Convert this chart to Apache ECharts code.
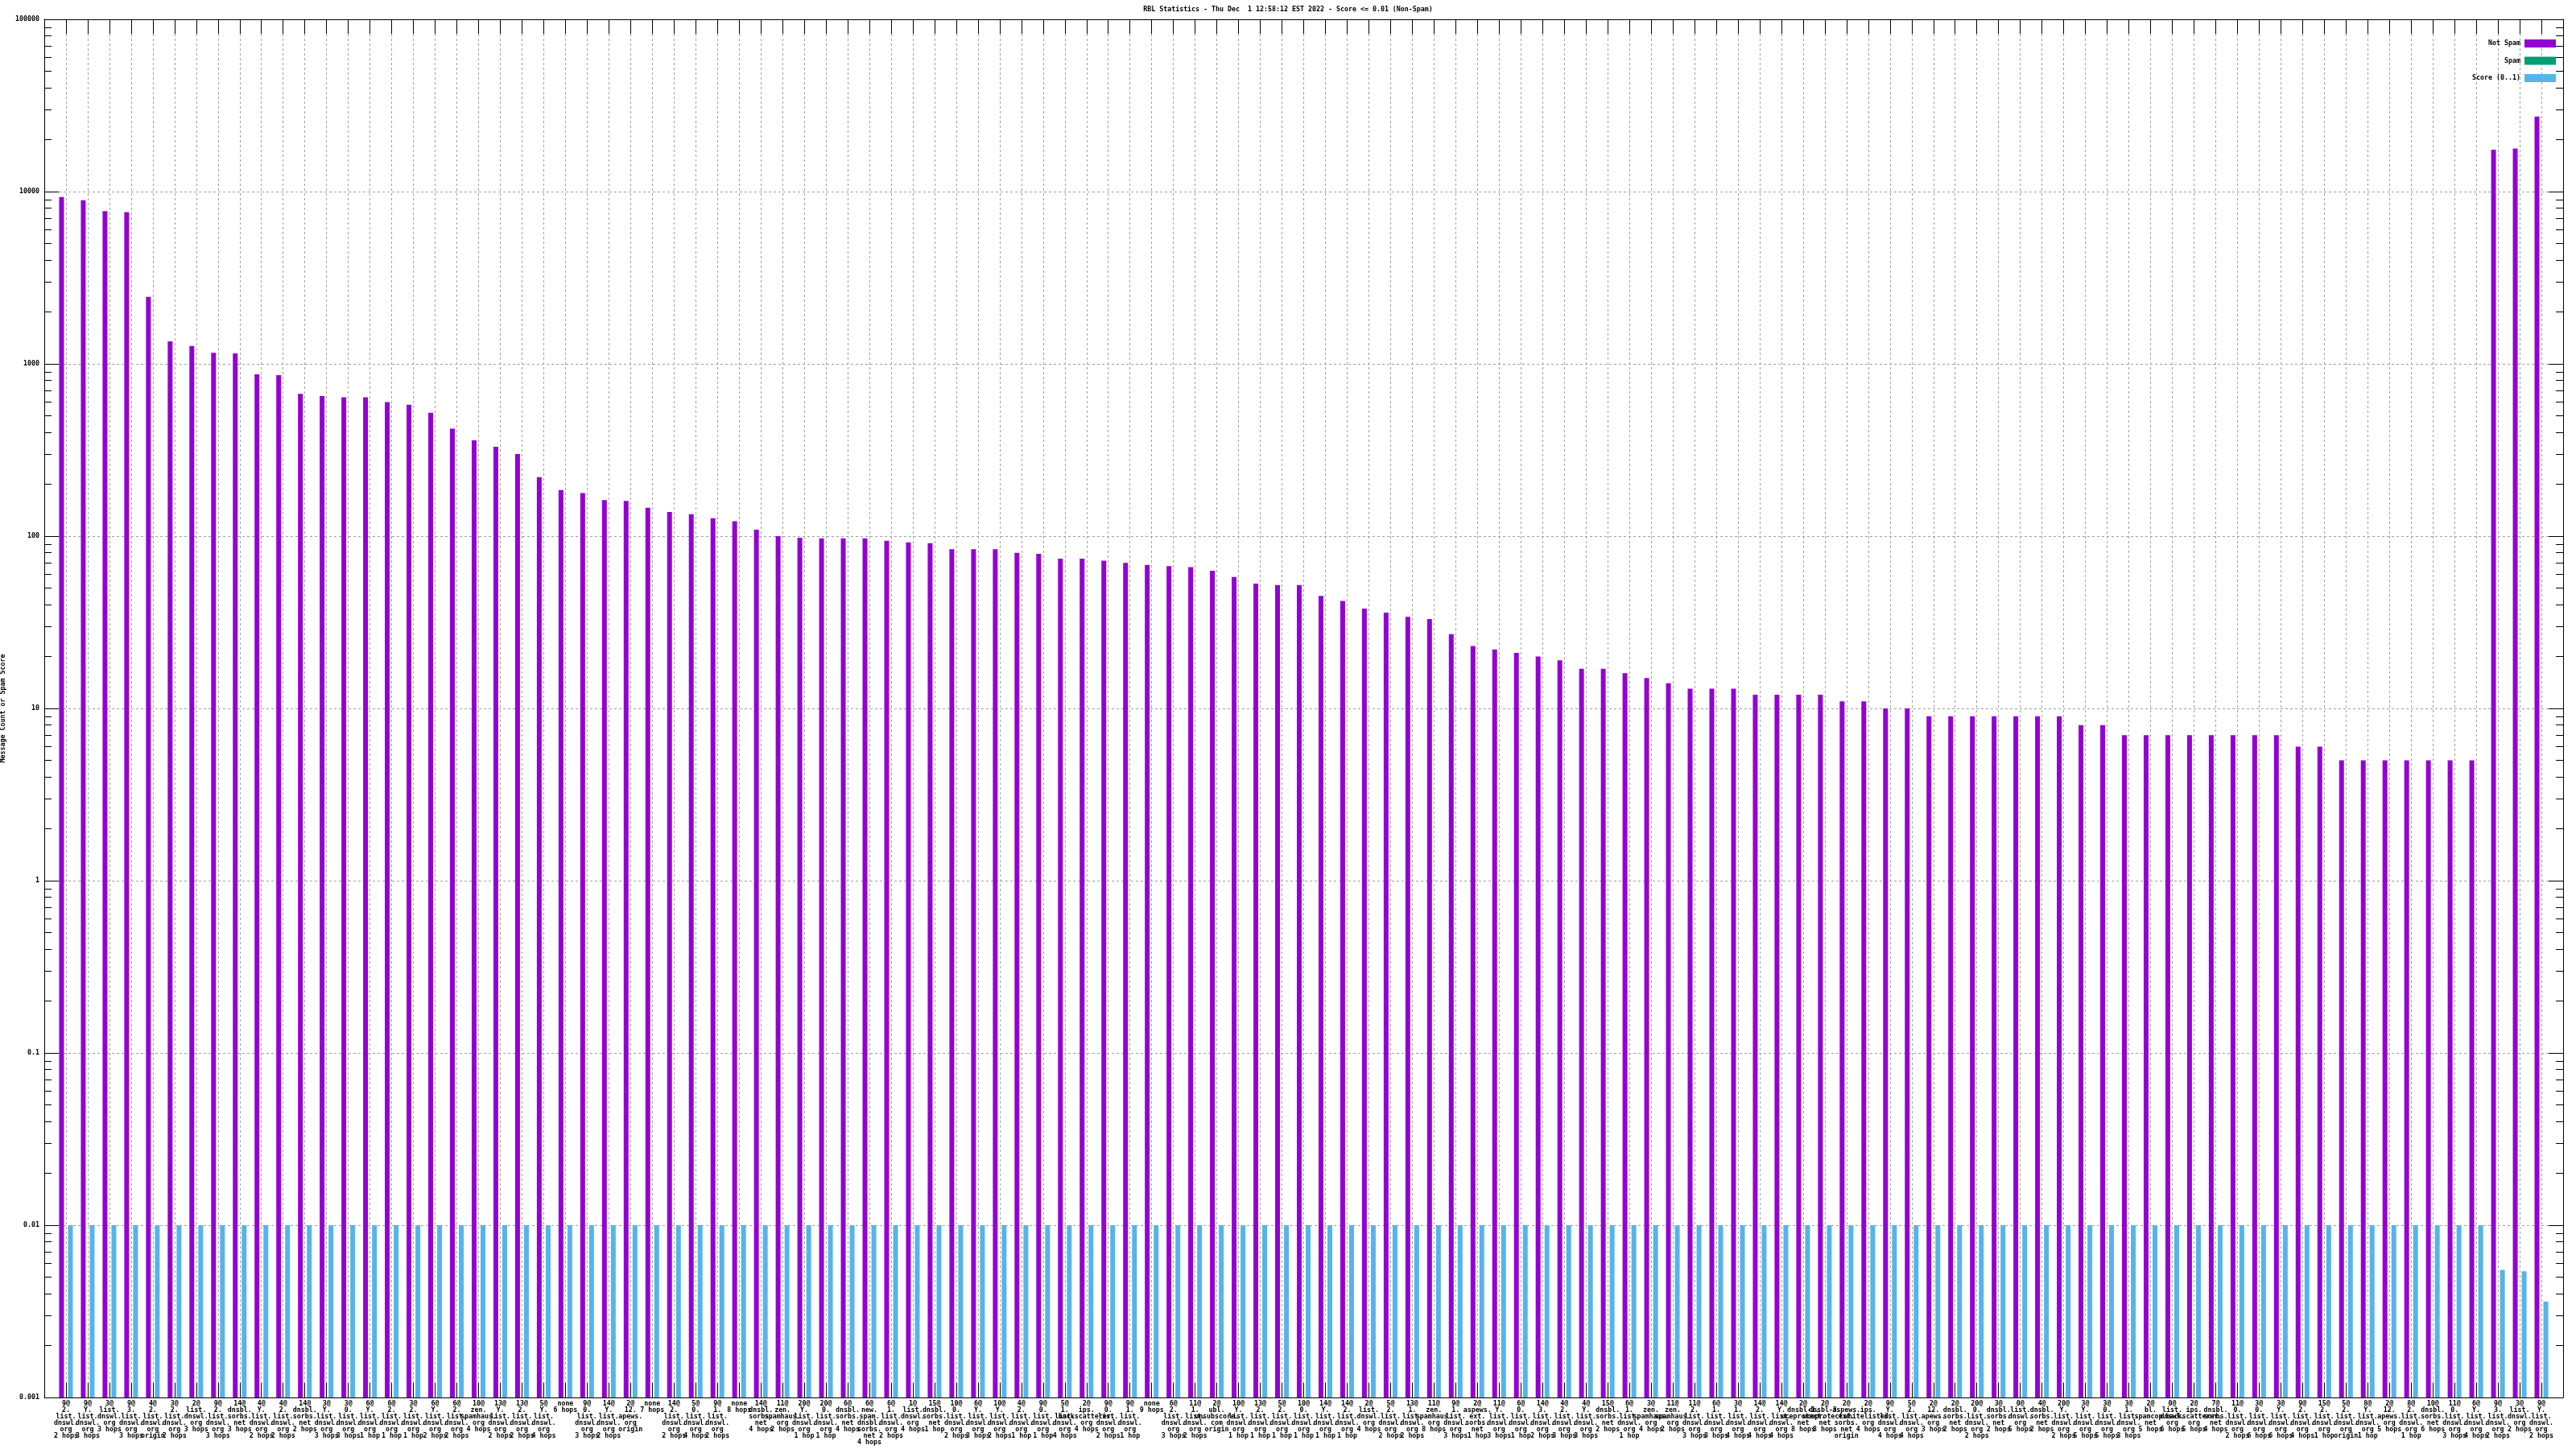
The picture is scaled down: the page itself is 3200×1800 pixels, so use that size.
<!DOCTYPE html>
<html><head><meta charset="utf-8">
<script src="https://cdn.jsdelivr.net/npm/echarts@6/dist/echarts.min.js"></script>
<style>html,body{margin:0;padding:0;background:#fff}#c{width:3200px;height:1800px}</style>
</head><body><div id="c"></div>
<script>
const titleText = 'RBL Statistics - Thu Dec  1 12:58:12 EST 2022 - Score <= 0.01 (Non-Spam)';
const yTitle = 'Message Count or Spam Score';
const seriesNames = ['Not Spam', 'Spam', 'Score (0..1)'];
const categories = [
 '9@\n2.\nlist.\ndnswl.\norg\n2 hops','9@\nY.\nlist.\ndnswl.\norg\n3 hops','3@\nlist.\ndnswl.\norg\n3 hops','9@\n3.\nlist.\ndnswl.\norg\n3 hops','4@\n2.\nlist.\ndnswl.\norg\norigin',
 '3@\n2.\nlist.\ndnswl.\norg\n2 hops','2@\nlist.\ndnswl.\norg\n3 hops','9@\n2.\nlist.\ndnswl.\norg\n3 hops','14@\ndnsbl.\nsorbs.\nnet\n3 hops','4@\nY.\nlist.\ndnswl.\norg\n2 hops',
 '4@\n2.\nlist.\ndnswl.\norg\n2 hops','14@\ndnsbl.\nsorbs.\nnet\n2 hops','3@\nY.\nlist.\ndnswl.\norg\n3 hops','3@\n0.\nlist.\ndnswl.\norg\n3 hops','6@\nY.\nlist.\ndnswl.\norg\n1 hop',
 '6@\n2.\nlist.\ndnswl.\norg\n1 hop','3@\n2.\nlist.\ndnswl.\norg\n1 hop','6@\nY.\nlist.\ndnswl.\norg\n2 hops','6@\n2.\nlist.\ndnswl.\norg\n2 hops','10@\nzen.\nspamhaus.\norg\n4 hops',
 '13@\nY.\nlist.\ndnswl.\norg\n2 hops','13@\n2.\nlist.\ndnswl.\norg\n2 hops','5@\nY.\nlist.\ndnswl.\norg\n4 hops','none\n6 hops','9@\n0.\nlist.\ndnswl.\norg\n3 hops',
 '14@\nY.\nlist.\ndnswl.\norg\n2 hops','2@\n12.\napews.\norg\norigin','none\n7 hops','14@\n2.\nlist.\ndnswl.\norg\n2 hops','5@\n0.\nlist.\ndnswl.\norg\n4 hops',
 '9@\n1.\nlist.\ndnswl.\norg\n2 hops','none\n8 hops','14@\ndnsbl.\nsorbs.\nnet\n4 hops','11@\nzen.\nspamhaus.\norg\n2 hops','20@\nY.\nlist.\ndnswl.\norg\n1 hop',
 '20@\n0.\nlist.\ndnswl.\norg\n1 hop','6@\ndnsbl.\nsorbs.\nnet\n4 hops','6@\nnew.\nspam.\ndnsbl.\nsorbs.\nnet\n4 hops','6@\n1.\nlist.\ndnswl.\norg\n2 hops','1@\nlist.\ndnswl.\norg\n4 hops',
 '15@\ndnsbl.\nsorbs.\nnet\n1 hop','10@\n0.\nlist.\ndnswl.\norg\n2 hops','6@\nY.\nlist.\ndnswl.\norg\n3 hops','10@\nY.\nlist.\ndnswl.\norg\n2 hops','4@\n2.\nlist.\ndnswl.\norg\n1 hop',
 '9@\n0.\nlist.\ndnswl.\norg\n1 hop','5@\n1.\nlist.\ndnswl.\norg\n4 hops','2@\nips.\nbackscatterer.\norg\n4 hops','9@\n0.\nlist.\ndnswl.\norg\n2 hops','9@\n1.\nlist.\ndnswl.\norg\n1 hop',
 'none\n9 hops','6@\n2.\nlist.\ndnswl.\norg\n3 hops','11@\n1.\nlist.\ndnswl.\norg\n2 hops','2@\nubl.\nunsubscore.\ncom\norigin','10@\nY.\nlist.\ndnswl.\norg\n1 hop',
 '13@\n2.\nlist.\ndnswl.\norg\n1 hop','5@\n2.\nlist.\ndnswl.\norg\n1 hop','10@\n0.\nlist.\ndnswl.\norg\n1 hop','14@\nY.\nlist.\ndnswl.\norg\n1 hop','14@\n2.\nlist.\ndnswl.\norg\n1 hop',
 '2@\nlist.\ndnswl.\norg\n4 hops','5@\n2.\nlist.\ndnswl.\norg\n2 hops','13@\n1.\nlist.\ndnswl.\norg\n2 hops','11@\nzen.\nspamhaus.\norg\n8 hops','9@\n1.\nlist.\ndnswl.\norg\n3 hops',
 '2@\naspews.\next.\nsorbs.\nnet\n1 hop','11@\nY.\nlist.\ndnswl.\norg\n3 hops','6@\n0.\nlist.\ndnswl.\norg\n1 hop','14@\n3.\nlist.\ndnswl.\norg\n2 hops','4@\n2.\nlist.\ndnswl.\norg\n3 hops',
 '4@\nY.\nlist.\ndnswl.\norg\n3 hops','15@\ndnsbl.\nsorbs.\nnet\n2 hops','6@\n1.\nlist.\ndnswl.\norg\n1 hop','3@\nzen.\nspamhaus.\norg\n4 hops','11@\nzen.\nspamhaus.\norg\n2 hops',
 '11@\n2.\nlist.\ndnswl.\norg\n3 hops','6@\n1.\nlist.\ndnswl.\norg\n3 hops','3@\n1.\nlist.\ndnswl.\norg\n4 hops','14@\n2.\nlist.\ndnswl.\norg\n4 hops','14@\nY.\nlist.\ndnswl.\norg\n4 hops',
 '2@\ndnsbl-1.\nuceprotect.\nnet\n8 hops','2@\ndnsbl-3.\nuceprotect.\nnet\n8 hops','2@\naspews.\next.\nsorbs.\nnet\norigin','2@\nips.\nwhitelisted.\norg\n4 hops','9@\nY.\nlist.\ndnswl.\norg\n4 hops',
 '5@\n2.\nlist.\ndnswl.\norg\n4 hops','2@\n12.\napews.\norg\n3 hops','2@\ndnsbl.\nsorbs.\nnet\n2 hops','20@\n0.\nlist.\ndnswl.\norg\n2 hops','3@\ndnsbl.\nsorbs.\nnet\n2 hops',
 '0@\nlist.\ndnswl.\norg\n5 hops','4@\ndnsbl.\nsorbs.\nnet\n2 hops','20@\nY.\nlist.\ndnswl.\norg\n2 hops','3@\nY.\nlist.\ndnswl.\norg\n5 hops','3@\n0.\nlist.\ndnswl.\norg\n5 hops',
 '3@\n1.\nlist.\ndnswl.\norg\n3 hops','2@\nbl.\nspamcop.\nnet\n5 hops','0@\nlist.\ndnswl.\norg\n6 hops','2@\nips.\nbackscatterer.\norg\n5 hops','7@\ndnsbl.\nsorbs.\nnet\n4 hops',
 '11@\n0.\nlist.\ndnswl.\norg\n2 hops','3@\n0.\nlist.\ndnswl.\norg\n6 hops','3@\nY.\nlist.\ndnswl.\norg\n6 hops','9@\n2.\nlist.\ndnswl.\norg\n4 hops','15@\n2.\nlist.\ndnswl.\norg\n1 hop',
 '5@\n2.\nlist.\ndnswl.\norg\norigin','8@\nY.\nlist.\ndnswl.\norg\n1 hop','2@\n12.\napews.\norg\n5 hops','8@\n2.\nlist.\ndnswl.\norg\n1 hop','10@\ndnsbl.\nsorbs.\nnet\n6 hops',
 '11@\n0.\nlist.\ndnswl.\norg\n3 hops','6@\nY.\nlist.\ndnswl.\norg\n4 hops','9@\n3.\nlist.\ndnswl.\norg\n2 hops','3@\nlist.\ndnswl.\norg\n2 hops','9@\nY.\nlist.\ndnswl.\norg\n2 hops'
];
const notSpam = [
 9300, 8900, 7700, 7600, 2450, 1350, 1270, 1160, 1150, 870,
 860, 670, 650, 640, 640, 600, 580, 520, 420, 360,
 330, 300, 220, 185, 178, 162, 160, 146, 138, 134,
 127, 122, 109, 100, 98, 97, 97, 97, 94, 92,
 91, 84, 84, 84, 80, 79, 74, 74, 72, 70,
 68, 67, 66, 63, 58, 53, 52, 52, 45, 42,
 38, 36, 34, 33, 27, 23, 22, 21, 20, 19,
 17, 17, 16, 15, 14, 13, 13, 13, 12, 12,
 12, 12, 11, 11, 10, 10, 9, 9, 9, 9,
 9, 9, 9, 8, 8, 7, 7, 7, 7, 7,
 7, 7, 7, 6, 6, 5, 5, 5, 5, 5,
 5, 5, 17500, 17800, 27300
];
const spam = [
 0,0,0,0,0,0,0,0,0,0, 0,0,0,0,0,0,0,0,0,0, 0,0,0,0,0,0,0,0,0,0, 0,0,0,0,0,0,0,0,0,0,
 0,0,0,0,0,0,0,0,0,0, 0,0,0,0,0,0,0,0,0,0, 0,0,0,0,0,0,0,0,0,0, 0,0,0,0,0,0,0,0,0,0,
 0,0,0,0,0,0,0,0,0,0, 0,0,0,0,0,0,0,0,0,0, 0,0,0,0,0,0,0,0,0,0, 0,0,0,0,0
];
const score = [
 0.01,0.01,0.01,0.01,0.01,0.01,0.01,0.01,0.01,0.01, 0.01,0.01,0.01,0.01,0.01,0.01,0.01,0.01,0.01,0.01,
 0.01,0.01,0.01,0.01,0.01,0.01,0.01,0.01,0.01,0.01, 0.01,0.01,0.01,0.01,0.01,0.01,0.01,0.01,0.01,0.01,
 0.01,0.01,0.01,0.01,0.01,0.01,0.01,0.01,0.01,0.01, 0.01,0.01,0.01,0.01,0.01,0.01,0.01,0.01,0.01,0.01,
 0.01,0.01,0.01,0.01,0.01,0.01,0.01,0.01,0.01,0.01, 0.01,0.01,0.01,0.01,0.01,0.01,0.01,0.01,0.01,0.01,
 0.01,0.01,0.01,0.01,0.01,0.01,0.01,0.01,0.01,0.01, 0.01,0.01,0.01,0.01,0.01,0.01,0.01,0.01,0.01,0.01,
 0.01,0.01,0.01,0.01,0.01,0.01,0.01,0.01,0.01,0.01, 0.01,0.01,0.0055,0.0054,0.0036
];
const yMajorTicks = [0.001, 0.01, 0.1, 1, 10, 100, 1000, 10000, 100000];
const yTickLabels = ['0.001', '0.01', '0.1', '1', '10', '100', '1000', '10000', '100000'];
const colors = ['#9400d3', '#009e73', '#56b4e9'];

const FONT = 'DejaVu Sans Mono';
const FS = 8.3;
const FW = 'bold';
const chart = echarts.init(document.getElementById('c'), null, {renderer: 'canvas'});

// padding categories at both ends so the first/last ticks sit one step in from the frame
const xData = [''].concat(categories, ['']);
const pad = arr => [null].concat(arr.map(v => (v > 0 ? v : null)), [null]);

const logCommon = {type: 'log', logBase: 10, min: 0.001, max: 100000, startValue: 0.001, splitNumber: 8};
const fmtY = v => {
  let best = null, bd = Infinity;
  yMajorTicks.forEach((t, i) => { const d = Math.abs(Math.log10(v) - Math.log10(t)); if (d < bd) { bd = d; best = i; } });
  return bd < 0.01 ? yTickLabels[best] : '';
};

const option = {
  animation: false,
  backgroundColor: '#fff',
  title: {text: titleText, left: 'center', top: 8, padding: 0,
    textStyle: {fontFamily: FONT, fontSize: FS, fontWeight: FW, color: '#000'}},
  legend: seriesNames.map((n, i) => ({
    data: [n], orient: 'vertical', right: 25, top: 49 + i * 21.5, padding: 0,
    align: 'right', itemWidth: 39, itemHeight: 10, itemGap: 0, icon: 'rect',
    textStyle: {fontFamily: FONT, fontSize: FS, fontWeight: FW, color: '#000'}
  })),
  grid: {left: 55, right: 16, top: 24, bottom: 64, containLabel: false, outerBoundsMode: 'none'},
  xAxis: [
    {type: 'category', data: xData, boundaryGap: false, position: 'bottom',
     axisLine: {show: true, onZero: false, lineStyle: {color: '#000', width: 1}},
     axisTick: {show: true, inside: true, length: 18, interval: 0, lineStyle: {color: '#000', width: 1}},
     axisLabel: {show: true, interval: 0, margin: 4, fontFamily: FONT, fontSize: FS, fontWeight: FW, lineHeight: 8, color: '#000', align: 'center', verticalAlign: 'top', hideOverlap: false},
     splitLine: {show: true, interval: 0, lineStyle: {color: '#a0a0a0', width: 1, type: [3, 3]}}},
    {type: 'category', data: xData, boundaryGap: false, position: 'top',
     axisLine: {show: true, onZero: false, lineStyle: {color: '#000', width: 1}},
     axisTick: {show: true, inside: true, length: 18, interval: 0, lineStyle: {color: '#000', width: 1}},
     axisLabel: {show: false}, splitLine: {show: false}}
  ],
  yAxis: [
    Object.assign({}, logCommon, {position: 'left',
      name: yTitle, nameLocation: 'middle', nameGap: 42, nameRotate: 90,
      nameTextStyle: {fontFamily: FONT, fontSize: FS, fontWeight: FW, color: '#000'},
      axisLine: {show: true, lineStyle: {color: '#000', width: 1}},
      axisTick: {show: true, inside: true, length: 18, lineStyle: {color: '#000', width: 1}},
      minorTick: {show: true, splitNumber: 9, length: 9, lineStyle: {color: '#000', width: 1}},
      axisLabel: {show: true, margin: 6, fontFamily: FONT, fontSize: FS, fontWeight: FW, color: '#000', formatter: fmtY},
      splitLine: {show: true, lineStyle: {color: '#a0a0a0', width: 1, type: [3, 3]}},
      minorSplitLine: {show: false}}),
    Object.assign({}, logCommon, {position: 'right',
      axisLine: {show: true, lineStyle: {color: '#000', width: 1}},
      axisTick: {show: true, inside: true, length: 18, lineStyle: {color: '#000', width: 1}},
      minorTick: {show: true, splitNumber: 9, length: 9, lineStyle: {color: '#000', width: 1}},
      axisLabel: {show: false}, splitLine: {show: false}})
  ],
  series: [
    {name: seriesNames[0], type: 'bar', data: pad(notSpam), xAxisIndex: 0, yAxisIndex: 0, barWidth: 6, barGap: '-8%', itemStyle: {color: colors[0]}},
    {name: seriesNames[1], type: 'bar', data: pad(spam), xAxisIndex: 0, yAxisIndex: 0, barWidth: 6, barGap: '-8%', itemStyle: {color: colors[1]}},
    {name: seriesNames[2], type: 'bar', data: pad(score), xAxisIndex: 0, yAxisIndex: 0, barWidth: 6, barGap: '-8%', itemStyle: {color: colors[2]}}
  ]
};
chart.setOption(option);
</script>
</body></html>
